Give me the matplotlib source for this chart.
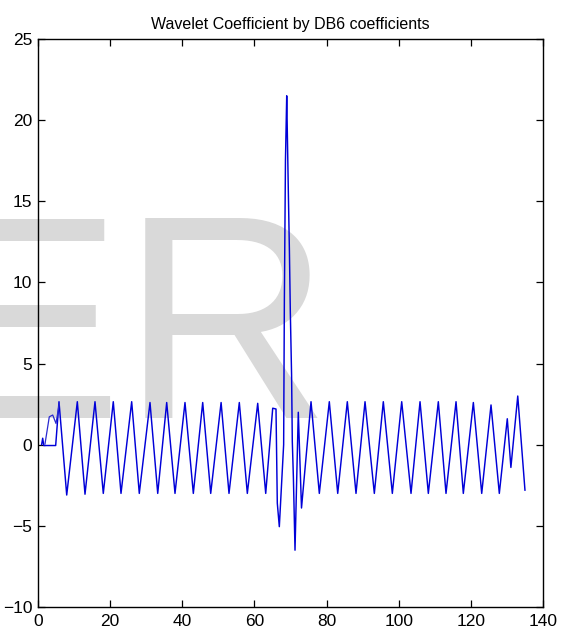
import matplotlib
matplotlib.use('Agg')
import matplotlib.pyplot as plt

# valores (picos e vales da onda)
x_coef = [1.0, 1.3, 1.6, 4.9, 5.82, 7.96, 10.90, 13.03, 15.80, 18.10, 20.87, 23.01,
          25.97, 28.08, 31.05, 33.19, 35.68, 37.98, 40.75, 43.06, 45.66, 47.88,
          50.76, 52.95, 55.81, 58.03, 60.91, 63.13, 65.07, 65.98, 66.34, 66.9,
          68.1, 68.3, 68.6, 68.95, 69.1, 69.4, 69.7, 69.95, 70.3, 70.5, 70.8,
          71.25, 72.16, 73.05, 75.69, 77.99, 80.76, 83.09, 85.75, 88.16, 90.66,
          93.24, 95.73, 98.23, 100.83, 103.41, 105.91, 108.21, 110.98, 113.11,
          115.89, 117.91, 120.69, 123.01, 125.59, 127.89, 130.1, 131.1, 133.0, 135.0]
y_coef = [0.0, 0.4, -0.05, -0.05, 2.65, -3.1, 2.65, -3.05, 2.65, -3.0, 2.65, -3.0,
          2.65, -3.0, 2.6, -3.0, 2.6, -3.0, 2.6, -3.0, 2.6, -3.0,
          2.6, -3.0, 2.6, -3.0, 2.55, -3.0, 2.25, 2.2, -3.6, -5.05,
          0.0, 8.9, 17.5, 21.5, 19.5, 15.6, 11.9, 8.2, 4.3, 0.2, -2.0,
          -6.5, 2.0, -3.9, 2.65, -3.0, 2.65, -3.0, 2.65, -3.0, 2.65,
          -3.0, 2.65, -3.0, 2.65, -3.0, 2.65, -3.0, 2.65, -3.0,
          2.65, -3.0, 2.6, -3.0, 2.45, -3.0, 1.6, -1.4, 3.0, -2.8]

# segundo trecho no inicio
x_ini = [1.94, 3.13, 4.08, 4.99, 5.9]
y_ini = [0.05, 1.72, 1.83, 1.31, 2.54]

xticks = [0, 20, 40, 60, 80, 100, 120, 140]
yticks = [-10, -5, 0, 5, 10, 15, 20, 25]

fonte = ['Liberation Sans Narrow', 'Liberation Sans', 'DejaVu Sans']
plt.rcParams['font.family'] = fonte

fig = plt.figure(figsize=(5.65, 6.32), dpi=100)
# marca d'agua cinza ao fundo
fig.text(-0.1274, 0.3386, 'ER', fontsize=209, color='#d9d9d9',
         family=['Liberation Sans', 'DejaVu Sans'], zorder=-5)

ax = fig.add_axes([38/565, 25/632, 505/565, 568/632])
ax.patch.set_facecolor('none')
ax.plot(x_coef, y_coef, color='#0000d8', lw=1.05)
ax.plot(x_ini, y_ini, color='#2a2ad0', lw=0.9)

ax.set_xlim(0, 140)
ax.set_ylim(-10, 25)
ax.set_xticks(xticks)
ax.set_yticks(yticks)
ax.tick_params(direction='in', top=True, right=True, length=5, width=0.9,
               labelsize=12.5, colors='black')
ax.tick_params(axis='y', pad=4)
ax.tick_params(axis='x', pad=5)
for s in ax.spines.values():
    s.set_linewidth(1.0)
ax.set_title('Wavelet Coefficient by DB6 coefficients', fontsize=11.5, pad=7)

plt.savefig('out.png', dpi=100)
